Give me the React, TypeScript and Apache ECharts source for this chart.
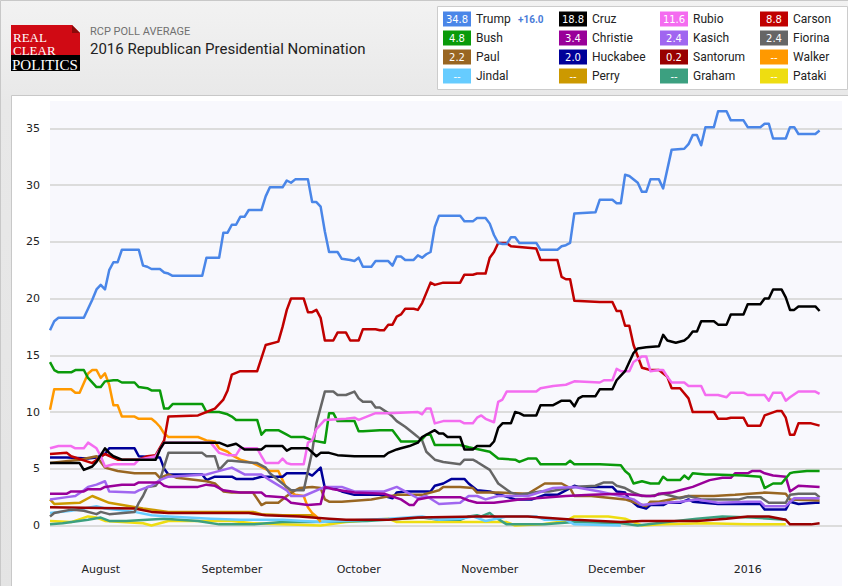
import React, { useEffect, useRef } from "react";
import * as echarts from "echarts";

// ---------- data ----------
const START_DATE = "2015-07-20"; // day 0 of the x axis
const X_MAX_DAY = 187.3;
const MONTH_TICK_DATES = ["2015-08-01", "2015-09-01", "2015-10-01", "2015-11-01", "2015-12-01", "2016-01-01"];
const MONTH_LABELS = ["August", "September", "October", "November", "December", "2016"];
const Y_MIN = 0;
const Y_MAX = 35;
const Y_STEP = 5;

const CANDIDATES = ["Trump", "Cruz", "Rubio", "Carson", "Bush", "Christie", "Kasich", "Fiorina", "Paul", "Huckabee", "Santorum", "Walker", "Jindal", "Perry", "Graham", "Pataki"];
const COLORS = ["#4a86e8", "#000000", "#f46cf0", "#c00000", "#0a9a0a", "#990099", "#a066f0", "#666666", "#996622", "#000099", "#990000", "#ff9900", "#66ccff", "#cc9900", "#3ca080", "#eedd11"];
const LATEST = ["34.8", "18.8", "11.6", "8.8", "4.8", "3.4", "2.4", "2.4", "2.2", "2.0", "0.2", "--", "--", "--", "--", "--"];
const LEADER_SPREAD = "+16.0";

// [days since START_DATE, poll average %]
const trump = [[0,17.2],[1,18.0],[2,18.3],[8,18.3],[9,19.1],[10,19.9],[11,20.8],[12,21.2],[13,20.8],[14,22.5],[15,23.2],[16,23.2],[17,24.3],[21,24.3],[22,22.9],[23,22.8],[24,22.6],[26,22.6],[27,22.3],[28,22.2],[29,22.0],[36,22.0],[37,23.6],[40,23.6],[41,25.8],[42,25.8],[43,26.5],[44,26.5],[45,27.2],[46,27.2],[47,27.8],[50,27.8],[51,29.0],[52,29.8],[55,29.8],[56,30.4],[57,30.2],[58,30.5],[61,30.5],[62,28.5],[63,28.5],[64,28.1],[65,25.9],[66,24.1],[68,24.1],[69,23.5],[71,23.4],[72,23.3],[73,23.6],[74,22.8],[76,22.8],[77,23.3],[80,23.3],[81,22.9],[82,23.7],[83,23.7],[84,23.4],[86,23.4],[87,23.8],[88,23.6],[89,23.9],[90,24.1],[91,26.3],[92,27.3],[97,27.3],[98,26.8],[100,26.8],[101,27.1],[103,27.1],[104,26.6],[105,25.6],[106,24.9],[107,24.8],[108,24.8],[109,25.4],[110,25.4],[111,24.9],[115,24.9],[116,24.3],[120,24.3],[121,24.6],[122,24.7],[123,24.9],[124,27.5],[129,27.6],[130,28.7],[133,28.7],[134,28.4],[135,28.4],[136,30.9],[137,30.8],[139,30.2],[140,29.4],[141,29.4],[142,30.5],[144,30.5],[145,29.7],[147,33.1],[150,33.2],[151,33.6],[152,34.4],[153,34.4],[154,33.5],[155,35.1],[157,35.1],[158,36.5],[160,36.5],[161,35.7],[164,35.7],[165,35.1],[168,35.1],[169,35.4],[170,35.4],[171,34.1],[174,34.1],[175,35.1],[176,35.1],[177,34.5],[181,34.5],[182,34.8]];
const cruz = [[0,5.5],[7,5.5],[8,4.9],[10,5.2],[11,5.6],[13,6.8],[14,6.4],[15,6.1],[17,5.8],[25,5.8],[26,6.7],[27,7.3],[40,7.3],[42,7.0],[44,7.2],[46,6.7],[50,6.7],[51,7.0],[55,7.0],[56,6.6],[57,6.8],[61,6.8],[63,6.1],[64,6.4],[66,6.4],[68,6.2],[72,6.1],[79,6.1],[80,6.4],[82,6.7],[83,6.8],[85,7.0],[87,7.3],[88,7.8],[91,8.4],[92,8.1],[93,8.1],[94,7.8],[97,7.8],[98,6.7],[100,6.7],[101,7.0],[104,7.0],[105,7.4],[106,8.6],[107,9.0],[109,9.0],[110,10.0],[111,9.9],[112,9.7],[115,9.7],[116,10.6],[119,10.6],[121,11.0],[123,11.0],[124,10.5],[125,11.2],[126,11.4],[129,11.4],[130,12.0],[133,12.0],[134,12.8],[135,13.2],[136,13.6],[137,14.4],[138,15.2],[139,15.6],[141,15.7],[144,15.8],[145,16.8],[146,16.3],[148,16.1],[150,16.3],[151,16.6],[152,17.1],[153,17.1],[154,18.0],[157,18.0],[158,17.7],[160,17.7],[161,18.6],[164,18.6],[165,19.5],[168,19.5],[169,20.0],[170,20.0],[171,20.8],[173,20.8],[174,20.1],[175,19.0],[176,19.0],[177,19.3],[181,19.3],[182,18.9]];
const rubio = [[0,6.8],[2,7.0],[5,7.0],[6,6.8],[8,6.8],[9,7.3],[11,6.8],[12,6.1],[13,5.2],[15,5.4],[20,5.4],[21,5.8],[25,6.1],[27,7.3],[38,7.3],[40,6.4],[42,6.2],[44,6.2],[45,6.8],[49,6.8],[50,6.1],[51,5.5],[54,5.5],[55,5.9],[56,5.5],[57,5.4],[60,5.4],[61,7.3],[62,7.5],[63,8.5],[65,9.3],[70,9.4],[72,9.5],[73,9.3],[77,9.9],[80,9.9],[87,10.0],[88,9.8],[89,10.3],[90,10.3],[91,9.0],[93,9.2],[97,9.2],[98,9.0],[100,9.0],[101,9.5],[102,9.7],[103,9.4],[105,9.1],[106,10.9],[107,11.1],[108,11.8],[115,11.8],[116,12.1],[119,12.3],[122,12.4],[124,12.7],[130,12.6],[131,12.8],[133,12.8],[134,13.8],[135,13.6],[137,13.6],[138,14.4],[140,14.9],[141,14.9],[142,13.6],[144,13.7],[145,13.7],[146,13.1],[147,12.6],[150,12.6],[151,12.3],[154,12.3],[155,11.5],[158,11.5],[160,11.3],[161,11.7],[164,11.7],[165,11.5],[169,11.5],[170,11.0],[171,11.7],[173,11.7],[174,11.0],[175,11.3],[177,11.8],[181,11.8],[182,11.6]];
const carson = [[0,6.3],[4,6.4],[5,6.1],[10,5.5],[13,6.3],[16,5.8],[21,5.8],[23,6.1],[25,6.2],[27,7.5],[28,9.6],[35,9.7],[37,10.0],[39,10.3],[41,11.1],[42,11.9],[43,13.3],[45,13.6],[49,13.6],[51,15.9],[54,16.2],[55,17.5],[56,19.0],[57,20.0],[60,20.0],[61,18.8],[62,18.8],[63,19.0],[64,18.3],[65,16.3],[67,16.3],[68,17.0],[70,17.0],[71,16.3],[73,16.3],[74,17.3],[77,17.3],[78,17.2],[79,17.2],[80,17.7],[81,17.7],[82,18.4],[83,18.6],[84,19.1],[86,19.1],[87,19.0],[88,19.6],[89,20.5],[90,21.4],[91,21.2],[93,21.4],[97,21.4],[98,22.1],[100,22.1],[101,22.2],[103,22.2],[104,23.6],[105,24.1],[106,24.9],[108,24.9],[109,24.6],[115,24.4],[116,23.4],[120,23.4],[121,21.9],[122,21.7],[123,21.7],[124,19.8],[130,19.7],[133,19.7],[134,18.9],[135,18.9],[136,17.6],[137,17.6],[138,15.9],[140,13.9],[142,13.7],[144,13.7],[146,13.1],[147,12.1],[149,12.1],[151,11.2],[152,10.0],[157,10.0],[158,9.4],[160,9.4],[161,9.5],[164,9.5],[165,8.8],[168,8.8],[169,9.7],[172,10.1],[173,10.1],[174,9.5],[175,8.0],[176,8.0],[177,9.0],[180,9.0],[182,8.8]];
const bush = [[0,14.4],[1,13.7],[2,13.5],[5,13.5],[6,13.7],[8,13.7],[9,13.0],[11,12.2],[12,12.2],[13,12.7],[15,12.8],[16,12.8],[17,12.6],[20,12.6],[21,12.2],[23,12.1],[24,11.9],[26,11.9],[27,10.3],[28,10.3],[29,10.7],[36,10.7],[37,10.0],[40,10.0],[42,9.8],[43,9.6],[44,9.3],[49,9.3],[50,8.0],[51,8.4],[54,8.4],[56,8.0],[57,7.8],[60,7.8],[62,7.5],[65,7.3],[66,9.9],[67,9.9],[68,9.2],[72,9.2],[73,8.3],[74,8.3],[78,8.4],[81,8.4],[83,7.4],[87,7.4],[88,7.6],[89,8.0],[90,8.0],[91,7.1],[97,7.1],[99,6.9],[104,6.5],[106,5.9],[110,5.8],[111,5.6],[113,5.9],[115,5.9],[116,5.4],[122,5.4],[123,5.7],[124,5.4],[130,5.4],[135,5.3],[136,4.8],[137,4.5],[138,3.7],[140,3.9],[142,3.7],[144,3.7],[145,4.3],[146,4.0],[149,4.0],[150,4.4],[151,4.1],[152,4.6],[155,4.5],[157,4.5],[164,4.4],[168,4.3],[169,3.3],[171,3.7],[173,3.7],[175,4.6],[176,4.7],[179,4.8],[182,4.8]];
const christie = [[0,2.8],[4,2.8],[5,3.0],[8,3.0],[9,3.2],[12,3.2],[13,3.4],[17,3.6],[20,3.6],[21,3.8],[26,3.8],[27,3.5],[28,3.4],[35,3.4],[37,3.6],[39,3.5],[41,3.1],[43,3.0],[45,2.9],[50,2.9],[51,2.6],[55,2.5],[56,2.3],[57,2.0],[61,1.8],[64,1.9],[65,3.4],[67,3.2],[72,2.9],[79,2.8],[83,2.3],[85,1.8],[86,1.8],[87,2.3],[90,2.5],[97,2.5],[99,2.2],[101,2.0],[105,2.0],[111,2.3],[122,2.6],[128,2.7],[135,2.8],[138,2.7],[141,2.6],[143,2.6],[144,2.8],[147,2.9],[149,3.1],[152,3.4],[156,4.0],[159,4.2],[161,4.2],[162,4.6],[165,4.6],[166,4.8],[168,4.8],[169,4.6],[171,4.4],[174,4.3],[175,3.0],[177,3.5],[182,3.4]];
const kasich = [[0,2.3],[4,2.5],[6,2.6],[8,3.1],[9,3.4],[11,3.6],[13,3.9],[14,3.0],[20,2.9],[21,3.1],[24,3.5],[26,4.0],[28,4.3],[37,4.5],[39,4.7],[43,5.1],[44,4.9],[46,4.5],[50,4.5],[52,4.0],[56,3.1],[57,2.6],[60,2.6],[65,3.4],[69,3.4],[72,3.0],[79,3.0],[82,3.4],[84,3.0],[87,2.4],[89,2.6],[92,1.9],[97,2.0],[99,2.6],[101,2.6],[103,2.3],[106,2.6],[113,2.6],[119,3.3],[124,3.4],[130,3.0],[136,2.5],[138,2.3],[140,1.8],[142,1.9],[149,2.1],[153,2.3],[158,2.0],[165,2.1],[168,2.1],[169,1.7],[174,1.7],[176,2.4],[182,2.4]];
const fiorina = [[0,0.8],[1,1.1],[5,1.4],[8,1.3],[11,1.0],[12,1.2],[14,1.0],[20,1.2],[21,2.0],[22,2.6],[23,3.4],[25,3.5],[26,4.0],[27,5.2],[28,6.4],[36,6.4],[37,6.1],[39,6.1],[40,4.9],[42,5.7],[43,5.7],[46,5.6],[49,5.5],[51,5.1],[52,4.6],[56,3.4],[57,3.1],[60,3.1],[62,6.5],[63,9.0],[65,11.8],[67,11.8],[68,11.5],[70,11.5],[72,11.8],[73,11.2],[74,10.9],[76,10.9],[77,10.4],[78,10.4],[80,9.9],[81,9.6],[82,9.2],[84,8.7],[86,8.1],[88,7.5],[89,6.5],[91,5.8],[93,5.6],[97,5.4],[98,5.8],[100,5.8],[101,5.6],[104,4.9],[105,4.3],[106,3.7],[109,2.9],[111,2.7],[116,3.0],[118,3.0],[124,3.4],[129,3.5],[131,3.8],[133,3.8],[134,3.5],[136,3.3],[138,2.9],[140,2.6],[142,2.6],[145,2.8],[149,2.4],[151,2.6],[152,2.5],[154,2.3],[163,2.3],[165,2.5],[168,2.5],[170,2.0],[174,2.0],[175,2.7],[177,2.8],[181,2.8],[182,2.5]];
const paul = [[0,5.5],[7,5.8],[11,6.1],[13,5.1],[16,4.8],[20,4.6],[25,4.6],[26,4.2],[28,4.5],[30,4.2],[37,3.9],[39,3.7],[41,3.0],[43,2.9],[48,2.9],[50,1.8],[51,2.0],[54,2.0],[56,2.6],[58,3.1],[59,3.3],[62,3.4],[64,3.3],[65,2.3],[66,2.1],[69,2.1],[76,2.3],[82,2.7],[88,2.7],[92,3.1],[93,3.4],[97,3.4],[100,3.3],[101,2.9],[106,2.9],[113,2.8],[117,3.7],[121,3.7],[123,3.3],[124,2.6],[128,2.6],[136,2.3],[141,1.7],[142,2.1],[144,2.1],[151,2.6],[157,2.6],[162,2.7],[169,2.9],[174,2.8],[175,2.3],[182,2.2]];
const huckabee = [[0,6.0],[4,6.0],[9,5.9],[11,6.0],[13,6.3],[14,6.8],[20,6.8],[21,6.1],[26,6.0],[27,5.0],[28,4.5],[36,4.5],[37,4.0],[39,4.3],[43,4.3],[44,4.1],[48,4.1],[50,4.3],[55,4.3],[56,4.6],[61,4.6],[62,4.4],[64,5.1],[65,3.3],[67,3.3],[69,3.0],[72,2.7],[78,2.7],[81,2.4],[82,2.9],[84,3.0],[90,3.0],[91,3.5],[93,3.7],[95,4.1],[98,4.1],[99,3.7],[101,3.1],[104,3.0],[110,2.3],[114,2.3],[117,2.7],[120,2.7],[124,3.5],[125,3.4],[133,3.4],[134,3.0],[136,2.9],[137,2.3],[139,1.7],[141,1.5],[142,1.8],[145,1.8],[146,2.0],[149,2.0],[151,2.3],[152,2.1],[158,1.9],[168,1.9],[169,1.4],[174,1.4],[175,2.1],[177,1.9],[181,2.0],[182,2.0]];
const santorum = [[0,1.6],[20,1.5],[24,1.2],[28,1.1],[47,1.1],[51,0.9],[59,0.8],[66,0.6],[70,0.5],[80,0.5],[87,0.7],[101,0.8],[113,0.8],[124,0.5],[135,0.3],[140,0.4],[153,0.4],[160,0.6],[165,0.8],[170,0.8],[174,0.5],[175,0.1],[180,0.1],[182,0.2]];
const walker = [[0,10.2],[1,12.0],[5,12.0],[6,11.7],[7,11.7],[9,13.4],[10,13.7],[11,13.7],[12,13.0],[13,13.4],[14,12.4],[15,10.6],[16,10.6],[17,9.6],[20,9.6],[21,9.4],[24,9.4],[25,9.1],[26,8.7],[27,8.1],[28,7.8],[35,7.8],[37,7.5],[39,7.4],[40,6.8],[42,6.5],[43,6.2],[45,5.8],[48,5.5],[52,4.8],[54,4.8],[55,4.0],[56,3.2],[58,2.7],[60,2.6],[61,1.6],[62,1.1],[63,0.8],[64,0.3]];
const jindal = [[0,1.1],[5,1.3],[11,1.7],[13,1.5],[20,1.2],[24,0.9],[28,0.8],[38,0.6],[45,0.5],[55,0.5],[64,0.3],[68,0.4],[80,0.6],[88,0.8],[92,0.5],[97,0.6],[100,0.8],[103,0.4],[108,0.8],[115,0.8],[117,0.5],[122,0.5],[124,0.1],[135,0.0]];
const perry = [[0,2.3],[1,1.9],[7,2.0],[10,2.6],[14,2.0],[22,1.5],[28,1.2],[48,1.2],[50,1.0],[55,0.9],[62,0.9],[64,0.5]];
const graham = [[0,0.1],[3,0.2],[9,0.5],[12,0.7],[14,0.4],[18,0.4],[27,0.6],[35,0.4],[40,0.1],[48,0.1],[55,0.3],[62,0.3],[75,0.4],[88,0.7],[92,0.5],[97,0.5],[99,0.8],[101,0.9],[102,0.8],[104,1.1],[105,0.8],[108,0.1],[117,0.1],[124,0.3],[135,0.2],[139,0.0],[146,0.3],[153,0.6],[159,0.8],[166,0.7],[174,0.5]];
const pataki = [[0,0.4],[5,0.3],[9,0.8],[11,0.7],[13,0.4],[22,0.2],[24,0.0],[28,0.4],[43,0.4],[48,0.2],[55,0.1],[64,0.0],[70,0.3],[80,0.6],[82,0.3],[95,0.3],[108,0.3],[110,0.0],[116,0.1],[122,0.4],[124,0.8],[132,0.8],[136,0.6],[140,0.0],[145,0.1],[155,0.2],[165,0.1],[174,0.1]];

const SERIES_DATA = [trump, cruz, rubio, carson, bush, christie, kasich, fiorina, paul, huckabee, santorum, walker, jindal, perry, graham, pataki];

// ---------- helpers ----------
const dayOf = (iso: string) => Math.round((Date.parse(iso) - Date.parse(START_DATE)) / 86400000);
const MONTH_TICK_DAYS = MONTH_TICK_DATES.map(dayOf);

const LEGEND_COL_X = [443, 559, 660, 760];
const LEGEND_ROW_Y = [19, 38, 57, 76];

function buildGraphics() {
  const els: any[] = [];
  // page / header background
  els.push({ type: "rect", z: -100, silent: true, shape: { x: 0.5, y: 0.5, width: 850, height: 600 },
    style: { fill: new echarts.graphic.LinearGradient(0, 0, 0, 1, [{ offset: 0, color: "#f2f2f2" }, { offset: 0.17, color: "#e8e8e8" }, { offset: 1, color: "#e4e4e4" }]), stroke: "#c8c8c8", lineWidth: 1 } });
  // chart panel
  els.push({ type: "rect", z: -99, silent: true, shape: { x: 11.5, y: 95.5, width: 840, height: 495 }, style: { fill: "#ffffff", stroke: "#c8c8c8", lineWidth: 1 } });
  // plot background
  els.push({ type: "rect", z: -98, silent: true, shape: { x: 50, y: 101, width: 792, height: 490 }, style: { fill: "#f8f8fd" } });

  // logo
  els.push({ type: "polygon", z: 50, shape: { points: [[11, 25], [72, 25], [80, 33], [80, 55], [11, 55]] }, style: { fill: "#d00a14" } });
  els.push({ type: "polygon", z: 51, shape: { points: [[72, 25], [72, 33], [80, 33]] }, style: { fill: "#8a0a0a" } });
  els.push({ type: "rect", z: 50, shape: { x: 11, y: 55, width: 69, height: 16 }, style: { fill: "#000000" } });
  els.push({ type: "text", z: 52, x: 13, y: 37, style: { text: "REAL", fill: "#fff", font: '13px "Liberation Serif"', verticalAlign: "middle", textVerticalAlign: "middle" } });
  els.push({ type: "text", z: 52, x: 13, y: 50.5, style: { text: "CLEAR", fill: "#fff", font: '13px "Liberation Serif"', verticalAlign: "middle", textVerticalAlign: "middle" } });
  els.push({ type: "text", z: 52, x: 12, y: 64.5, style: { text: "POLITICS", fill: "#fff", font: '15px "Liberation Serif"', verticalAlign: "middle", textVerticalAlign: "middle" } });

  // header texts
  els.push({ type: "text", z: 52, x: 90, y: 31, style: { text: "RCP POLL AVERAGE", fill: "#707070", font: "11px Roboto", verticalAlign: "middle", textVerticalAlign: "middle" } });
  els.push({ type: "text", z: 52, x: 90, y: 49, style: { text: "2016 Republican Presidential Nomination", fill: "#222222", font: "15px Roboto", verticalAlign: "middle", textVerticalAlign: "middle" } });

  // legend box
  els.push({ type: "rect", z: 50, shape: { x: 437.5, y: 6.5, width: 410, height: 83 }, style: { fill: "#ffffff", stroke: "#cccccc", lineWidth: 1 } });
  CANDIDATES.forEach((name, i) => {
    const col = i % 4;
    const row = Math.floor(i / 4);
    const bx = LEGEND_COL_X[col];
    const cy = LEGEND_ROW_Y[row];
    els.push({ type: "rect", z: 51, shape: { x: bx, y: cy - 7.5, width: 28, height: 15 }, style: { fill: COLORS[i] } });
    els.push({ type: "text", z: 52, x: bx + 14, y: cy + 0.5, style: { text: LATEST[i], fill: "#ffffff", font: '10px "DejaVu Sans"', align: "center", textAlign: "center", verticalAlign: "middle", textVerticalAlign: "middle" } });
    els.push({ type: "text", z: 52, x: bx + 33, y: cy, style: { text: name, fill: "#222222", font: "12px Roboto", verticalAlign: "middle", textVerticalAlign: "middle" } });
  });
  els.push({ type: "text", z: 52, x: 518, y: 19, style: { text: LEADER_SPREAD, fill: "#4a7bd8", font: "bold 10px Roboto", verticalAlign: "middle", textVerticalAlign: "middle" } });
  return els;
}

function buildOption() {
  const drawOrder = CANDIDATES.map((_, i) => i).reverse();
  return {
    animation: false,
    backgroundColor: "#e6e6e6",
    textStyle: { fontFamily: '"DejaVu Sans", Verdana, sans-serif' },
    grid: { left: 50, right: 6, top: 128.3, bottom: 60.5, containLabel: false, outerBoundsMode: "none" },
    xAxis: {
      type: "value",
      min: 0,
      max: X_MAX_DAY,
      axisLine: { show: false },
      axisTick: { show: false },
      splitLine: { show: false },
      axisLabel: {
        customValues: MONTH_TICK_DAYS,
        formatter: (v: number) => {
          const k = MONTH_TICK_DAYS.indexOf(Math.round(v));
          return k >= 0 ? MONTH_LABELS[k] : "";
        },
        margin: 38,
        color: "#222222",
        fontSize: 11,
        fontFamily: '"DejaVu Sans"',
      },
    },
    yAxis: {
      type: "value",
      min: Y_MIN,
      max: Y_MAX,
      interval: Y_STEP,
      axisLine: { show: false },
      axisTick: { show: false },
      splitLine: { show: true, lineStyle: { color: "#dcdcdc", width: 2 } },
      axisLabel: { margin: 10, color: "#222222", fontSize: 11, fontFamily: '"DejaVu Sans"' },
    },
    graphic: { elements: buildGraphics() },
    series: drawOrder.map((i) => ({
      name: CANDIDATES[i],
      type: "line",
      data: SERIES_DATA[i],
      showSymbol: false,
      symbol: "none",
      clip: false,
      silent: true,
      z: 2 + (CANDIDATES.length - i) / 100,
      lineStyle: { color: COLORS[i], width: 2.5, join: "round" },
      itemStyle: { color: COLORS[i] },
    })),
  };
}

export default function App() {
  const ref = useRef<HTMLDivElement>(null);
  useEffect(() => {
    if (!ref.current) return;
    const chart = echarts.init(ref.current, null, { renderer: "svg" });
    chart.setOption(buildOption() as any);
    return () => chart.dispose();
  }, []);
  return <div ref={ref} style={{ position: "fixed", left: 0, top: 0, width: 848, height: 586 }} />;
}
